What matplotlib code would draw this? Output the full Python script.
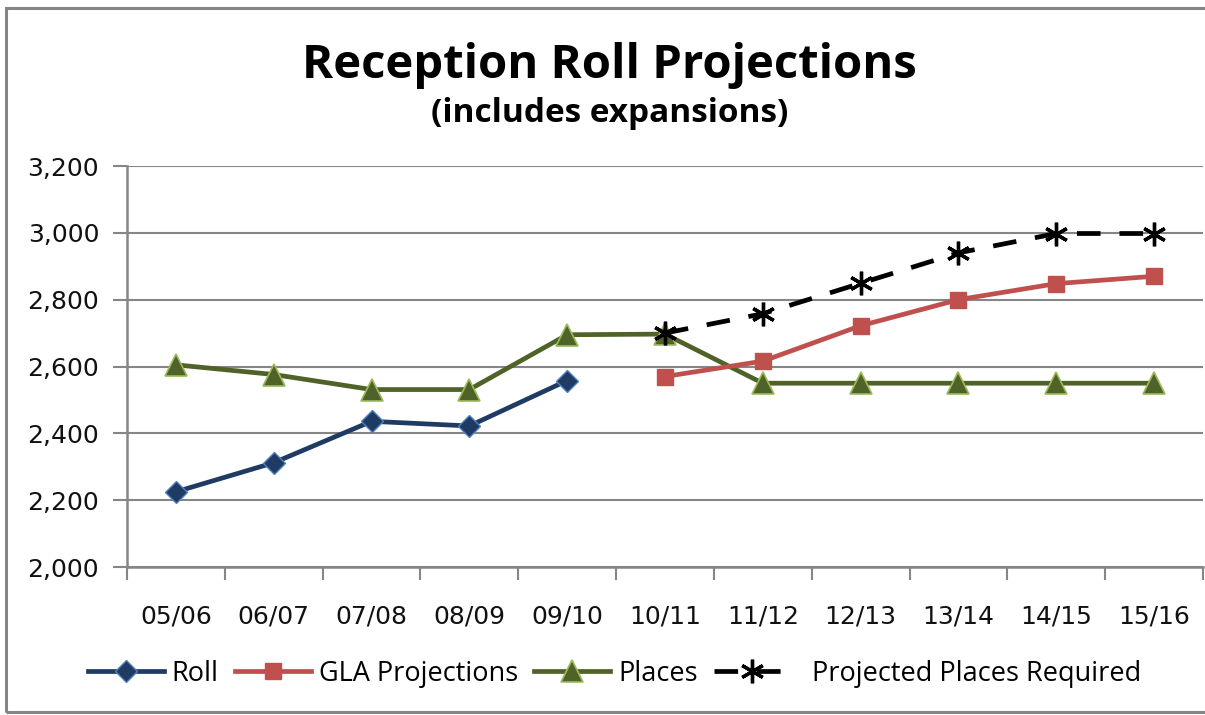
import matplotlib.pyplot as plt
from matplotlib.patches import Rectangle
from matplotlib.ticker import FuncFormatter, FixedLocator
import numpy as np

years = ['05/06', '06/07', '07/08', '08/09', '09/10', '10/11',
         '11/12', '12/13', '13/14', '14/15', '15/16']

roll = [2225, 2312, 2436, 2422, 2558, None, None, None, None, None, None]
gla = [None, None, None, None, None, 2570, 2616, 2722, 2800, 2848, 2870]
places = [2605, 2576, 2531, 2531, 2695, 2697, 2550, 2550, 2550, 2550, 2550]
projected = [None, None, None, None, None, 2700, 2758, 2849, 2940, 2998, 2998]


def arr(v):
    return np.array([np.nan if a is None else a for a in v], dtype=float)


x = np.arange(len(years))

fig = plt.figure(figsize=(12.05, 7.15), dpi=100)
ax = fig.add_axes([127 / 1205, 148 / 715, 1076 / 1205, 401 / 715])

ax.plot(x, arr(roll), color='#1F3B64', lw=3.4, marker='D', ms=11,
        mfc='#1F3B64', mec='#4F81BD', mew=1, label='Roll', zorder=4)
ax.plot(x, arr(gla), color='#C0504D', lw=3.4, marker='s', ms=11,
        mfc='#C0504D', mec='#C0504D', label='GLA Projections', zorder=4)
ax.plot(x, arr(places), color='#4F6228', lw=3.4, marker='^', ms=16,
        mfc='#4F6228', mec='#9BBB59', mew=1.2, label='Places', zorder=3)
ax.plot(x, arr(projected), color='black', lw=3.4, ls=(0, (5, 4)),
        marker=(6, 2, 0), ms=17, mew=2.4, mec='black',
        label='  Projected Places Required', zorder=5)

ax.set_xlim(-0.5, len(years) - 0.5)
ax.set_ylim(2000, 3200)
ax.set_yticks(np.arange(2000, 3201, 200))
ax.yaxis.set_major_formatter(FuncFormatter(lambda v, p: f'{int(v):,}'))
ax.set_xticks(x)
ax.set_xticklabels(years)
ax.xaxis.set_minor_locator(FixedLocator(np.arange(-0.5, len(years), 1)))

ax.grid(axis='y', color='#868686', lw=1.5)
ax.set_axisbelow(True)
for s in ['top', 'right']:
    ax.spines[s].set_visible(False)
for s in ['left', 'bottom']:
    ax.spines[s].set_color('#868686')
    ax.spines[s].set_linewidth(1.8)

ax.tick_params(axis='x', which='major', length=0, pad=27, labelsize=18,
               labelcolor='#111111')
ax.tick_params(axis='x', which='minor', length=9, width=1.5, color='#868686')
ax.tick_params(axis='y', length=10, width=1.5, color='#868686', pad=10,
               labelsize=18, labelcolor='#111111')

fig.text(0.506, 0.908, 'Reception Roll Projections', ha='center', va='center',
         fontsize=34, fontweight='bold', family='Open Sans')
fig.text(0.506, 0.841, '(includes expansions)', ha='center', va='center',
         fontsize=24, fontweight='bold', family='Open Sans')

leg = fig.legend(loc='center', bbox_to_anchor=(0.51, 0.058), ncol=4,
                 frameon=False, handlelength=2.8, columnspacing=0.6,
                 handletextpad=0.3, prop={'family': 'Open Sans', 'size': 19.5})

fig.patches.append(Rectangle((6 / 1205, 3 / 715), 1.1, 704 / 715,
                             transform=fig.transFigure, fill=False,
                             ec='#858585', lw=2.2))

fig.savefig('out.png', dpi=100)
